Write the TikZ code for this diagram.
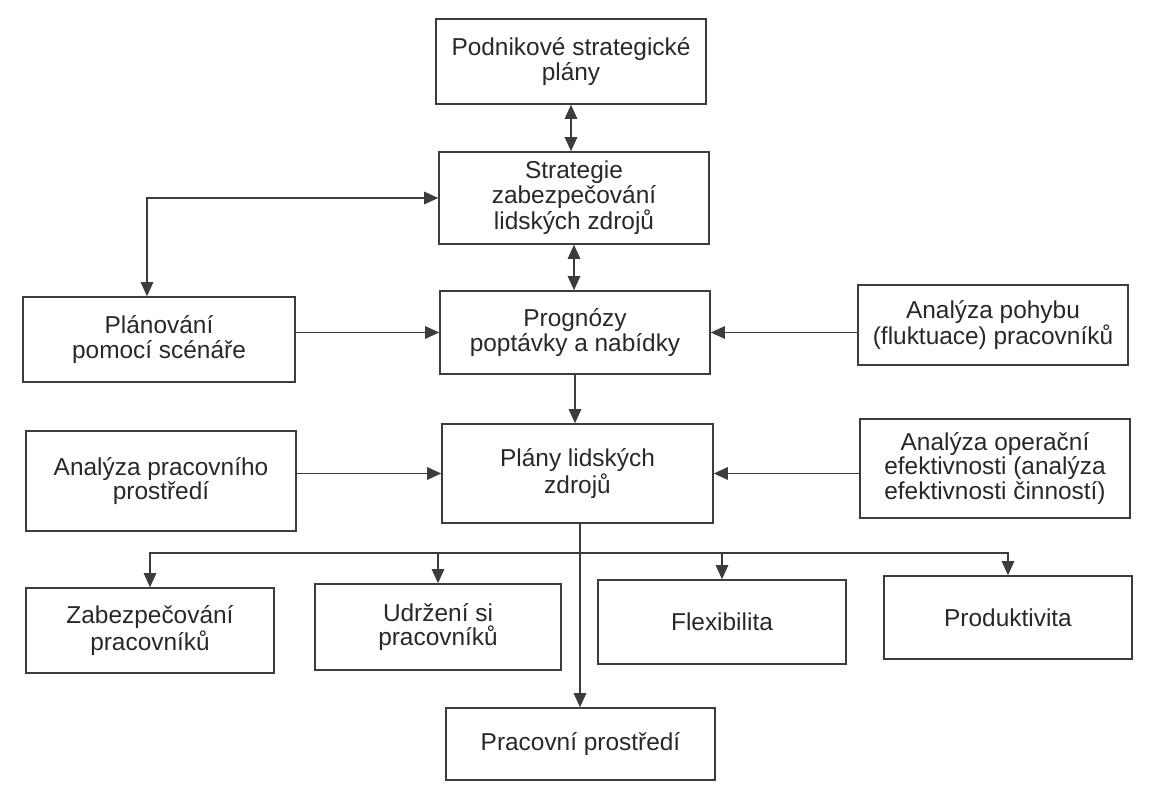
\documentclass[tikz,border=0pt]{standalone}
\usepackage{fontspec}
\setmainfont{Liberation Sans}
\usepackage{xcolor}
\usepackage{tikz}
\usetikzlibrary{arrows.meta}

\begin{document}
\begin{tikzpicture}[node distance=2cm]
	\definecolor{linegray}{RGB}{60,60,60}
	\definecolor{textgray}{RGB}{40,40,40}
	\tikzstyle{box} = [rectangle, inner sep=2pt, text centered, align=center, draw=linegray, line width=0.9pt, text=textgray, font=\fontsize{13.9}{14}\selectfont]
	\tikzstyle{arrow} = [draw=linegray, line width=0.65pt, -{Triangle[length=2.8mm, width=2.5mm]}]
	\tikzstyle{dblarrow} = [draw=linegray, line width=0.65pt, {Triangle[length=2.8mm, width=2.5mm]}-{Triangle[length=2.8mm, width=2.5mm]}]

	\useasboundingbox (0,0) rectangle (23,-15.74);

	\node (corporate) [box, minimum width=5.4cm, minimum height=1.7cm] at (11.42,-1.23) {Podnikové strategické\\plány};
	\node (strategy) [box, below of=corporate, xshift=0.06cm, yshift=-0.73cm, minimum width=5.4cm, minimum height=1.84cm] {Strategie\\zabezpečování\\lidských zdrojů};
	\node (forecast) [box, below of=strategy, xshift=0.02cm, yshift=-0.69cm, minimum width=5.4cm, minimum height=1.66cm] {Prognózy\\poptávky a nabídky};
	\node (hrplans) [box, below of=forecast, xshift=0.05cm, yshift=-0.82cm, minimum width=5.42cm, minimum height=1.98cm] {Plány lidských\\zdrojů};

	\node (scenario) [box, left of=forecast, xshift=-6.32cm, yshift=-0.14cm, minimum width=5.44cm, minimum height=1.7cm] {Plánování\\pomocí scénáře};
	\node (turnover) [box, right of=forecast, xshift=6.36cm, yshift=0.15cm, minimum width=5.4cm, minimum height=1.6cm] {Analýza pohybu\\(fluktuace) pracovníků};
	\node (workenv) [box, left of=hrplans, xshift=-6.33cm, yshift=-0.15cm, minimum width=5.4cm, minimum height=2cm] {Analýza pracovního\\prostředí};
	\node (efficiency) [box, right of=hrplans, xshift=6.35cm, yshift=0.1cm, minimum width=5.4cm, minimum height=1.98cm] {Analýza operační\\efektivnosti (analýza\\efektivnosti činností)};

	\node (flexibility) [box, below of=hrplans, xshift=2.89cm, yshift=-0.97cm, minimum width=4.96cm, minimum height=1.68cm] {Flexibilita};
	\node (retention) [box, left of=flexibility, xshift=-3.68cm, yshift=-0.1cm, minimum width=4.92cm, minimum height=1.72cm] {Udržení si\\pracovníků};
	\node (staffing) [box, left of=retention, xshift=-3.76cm, yshift=-0.07cm, minimum width=4.96cm, minimum height=1.7cm] {Zabezpečování\\pracovníků};
	\node (productivity) [box, right of=flexibility, xshift=3.72cm, yshift=0.09cm, minimum width=4.96cm, minimum height=1.66cm] {Produktivita};
	\node (environment) [box, below of=hrplans, xshift=0.06cm, yshift=-3.41cm, minimum width=5.38cm, minimum height=1.44cm] {Pracovní prostředí};

	\coordinate (split) at (11.6,-11.06);

	\draw [dblarrow] (corporate.south) -- (corporate.south |- strategy.north);
	\draw [dblarrow] (strategy.south) -- (strategy.south |- forecast.north);
	\draw [dblarrow] (strategy.west) -| ([xshift=-0.24cm]scenario.north);
	\draw [arrow] (forecast.south) -- (forecast.south |- hrplans.north);
	\draw [arrow] (forecast.west -| scenario.east) -- (forecast.west);
	\draw [arrow] (forecast.east -| turnover.west) -- (forecast.east);
	\draw [arrow] (hrplans.west -| workenv.east) -- (hrplans.west);
	\draw [arrow] (hrplans.east -| efficiency.west) -- (hrplans.east);

	\draw [arrow] (hrplans.south -| split) -- (split |- environment.north);
	\draw [arrow] (split) -| (staffing);
	\draw [arrow] (split) -| (retention);
	\draw [arrow] (split) -| (flexibility);
	\draw [arrow] (split) -| (productivity);
\end{tikzpicture}
\end{document}
